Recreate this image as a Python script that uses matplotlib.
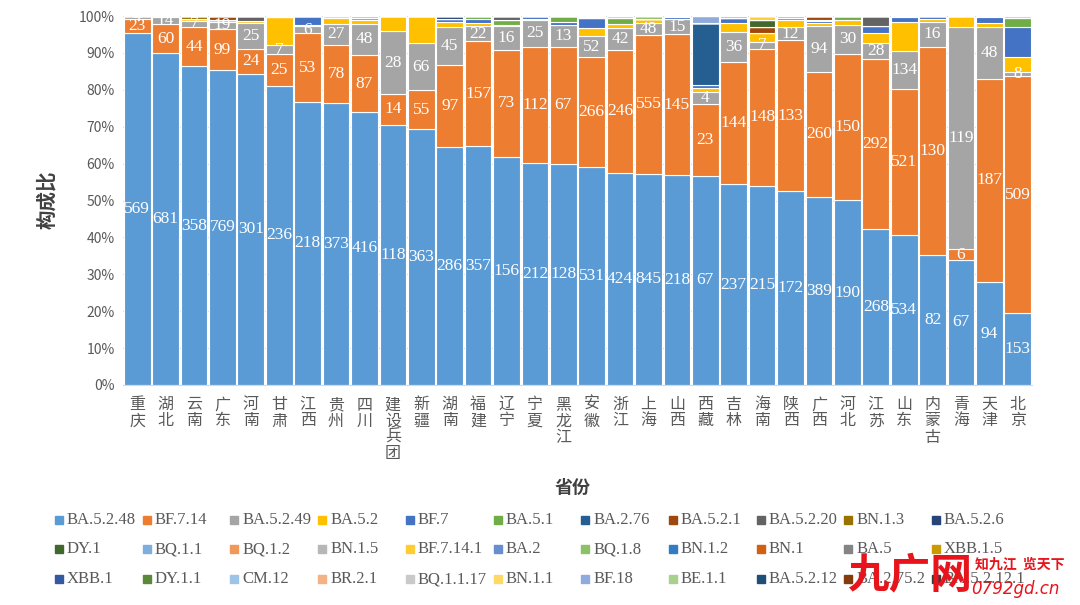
import matplotlib.pyplot as plt
import numpy as np
from matplotlib.patches import Rectangle

plt.rcParams['font.family'] = ['Noto Sans CJK SC', 'DejaVu Sans']

# provinces, left to right
provinces = ['重庆', '湖北', '云南', '广东', '河南', '甘肃', '江西', '贵州', '四川', '建设兵团',
             '新疆', '湖南', '福建', '辽宁', '宁夏', '黑龙江', '安徽', '浙江', '上海', '山西',
             '西藏', '吉林', '海南', '陕西', '广西', '河北', '江苏', '山东', '内蒙古', '青海',
             '天津', '北京']

variants = ['BA.5.2.48', 'BF.7.14', 'BA.5.2.49', 'BA.5.2', 'BF.7', 'BA.5.1', 'BA.2.76', 'BA.5.2.1',
            'BA.5.2.20', 'BN.1.3', 'BA.5.2.6', 'DY.1', 'BQ.1.1', 'BQ.1.2', 'BN.1.5', 'BF.7.14.1',
            'BA.2', 'BQ.1.8', 'BN.1.2', 'BN.1', 'BA.5', 'XBB.1.5', 'XBB.1', 'DY.1.1', 'CM.12',
            'BR.2.1', 'BQ.1.1.17', 'BN.1.1', 'BF.18', 'BE.1.1', 'BA.5.2.12', 'BA.2.75.2',
            'BA.5.2.12.1']

colors = ['#5B9BD5', '#ED7D31', '#A5A5A5', '#FFC000', '#4472C4', '#70AD47', '#255E91', '#9E480E',
          '#636363', '#997300', '#264478', '#43682B', '#7CAFDD', '#F1975A', '#B7B7B7', '#FFCD33',
          '#698ED0', '#8CC168', '#327DC2', '#D26012', '#848484', '#CC9A00', '#335AA1', '#5A8A39',
          '#9DC3E6', '#F4B183', '#C9C9C9', '#FFD966', '#8FAADC', '#A9D18E', '#1F4E79', '#843C0C',
          '#3A3A3A']

# share of each variant in every province (%)
ba5248 = [95.4, 89.9, 86.3, 85.4, 84.2, 81.0, 76.5, 75.9, 73.4, 70.5, 69.3, 64.4, 64.6, 61.3, 60.1, 59.9,
          59.0, 57.5, 57.2, 56.7, 56.7, 54.4, 53.9, 52.4, 51.0, 50.0, 42.2, 40.4, 35.0, 33.9, 27.9, 19.4]
bf714 = [3.9, 7.9, 10.6, 11.0, 6.8, 8.5, 18.5, 15.8, 15.3, 8.4, 10.6, 22.0, 28.4, 28.8, 31.6, 31.5,
         29.7, 33.3, 37.4, 38.0, 19.6, 33.0, 37.2, 40.5, 34.2, 39.6, 46.1, 39.5, 56.0, 2.9, 55.4, 64.0]
ba5249 = [0.6, 1.9, 1.7, 2.1, 7.0, 2.5, 2.1, 5.5, 8.4, 16.9, 12.7, 10.2, 4.0, 6.3, 7.2, 6.0,
          5.8, 5.8, 3.4, 4.0, 3.3, 8.3, 1.8, 3.7, 12.3, 7.9, 4.4, 10.1, 6.9, 60.1, 14.1, 1.0]
ba52 = [0.1, 0.2, 0.4, 0.4, 0.5, 7.6, 0.3, 1.6, 1.1, 4.2, 7.4, 1.5, 0.9, 0.3, 0.2, 0,
        2.1, 1.2, 0.9, 0.2, 0.9, 2.4, 2.3, 1.8, 0.9, 1.2, 2.9, 7.9, 0.6, 3.1, 1.1, 4.2]
bf7 = [0, 0.1, 0, 0, 0, 0, 2.3, 0.6, 0.5, 0, 0, 0.7, 1.2, 0, 0.9, 0.9,
       2.7, 0, 0, 0.4, 0.9, 1.2, 0, 0.6, 0.5, 0, 1.8, 1.2, 0.9, 0, 1.6, 8.1]
ba51 = [0, 0, 0, 0, 0, 0, 0, 0, 0, 0, 0, 0, 0.7, 1.2, 0, 1.5,
        0, 1.5, 0, 0.3, 0, 0, 0, 0, 0.3, 1.1, 0, 0.4, 0, 0, 0.2, 2.3]
ba276 = [0, 0, 0, 0, 0, 0, 0, 0, 0, 0, 0, 0, 0, 0, 0, 0,
         0, 0, 0, 0, 16.9, 0, 0, 0, 0, 0, 0, 0, 0, 0, 0, 0]
ba521 = [0, 0, 0, 1.1, 0, 0.3, 0, 0, 0, 0, 0, 0, 0, 0, 0, 0,
         0, 0, 0, 0, 0, 0, 1.6, 0, 1.1, 0, 0, 0, 0, 0, 0, 0.6]
ba5220 = [0, 0, 0, 0, 1.3, 0, 0, 0, 0, 0, 0, 0, 0, 1.2, 0, 0,
          0.3, 0.6, 0, 0, 0, 0, 0, 0, 0, 0, 2.7, 0, 0, 0, 0, 0]
bn13 = [0, 0, 0.9, 0, 0, 0, 0, 0, 0, 0, 0, 0, 0, 0, 0, 0,
        0, 0, 0, 0, 0, 0, 0, 0, 0, 0, 0, 0, 0, 0, 0, 0]
ba526 = [0, 0, 0, 0, 0, 0, 0, 0, 0, 0, 0, 0.9, 0, 0, 0, 0,
         0.3, 0, 0, 0, 0, 0, 0, 0.5, 0, 0, 0, 0, 0, 0, 0, 0]
dy1 = [0, 0, 0, 0, 0, 0, 0, 0, 0.5, 0, 0, 0, 0, 0, 0, 0,
       0, 0, 0, 0, 0, 0.6, 2.0, 0, 0, 0, 0, 0, 0, 0, 0, 0]
bf7141 = [0, 0, 0, 0, 0, 0, 0, 0, 0, 0, 0, 0, 0, 0, 0, 0,
          0, 0, 0, 0, 0, 0, 1.1, 0, 0, 0, 0, 0, 0, 0, 0, 0]
bq18 = [0, 0, 0, 0, 0, 0, 0, 0, 0, 0, 0, 0, 0, 0, 0, 0,
        0, 0, 0.9, 0, 0, 0, 0, 0, 0, 0, 0, 0, 0, 0, 0, 0]
bf18 = [0, 0, 0, 0, 0, 0, 0, 0, 0, 0, 0, 0, 0, 0, 0, 0,
        0, 0, 0, 0, 1.8, 0, 0, 0, 0, 0, 0, 0, 0, 0, 0, 0]

# case counts shown as data labels
n_ba5248 = [569, 681, 358, 769, 301, 236, 218, 373, 416, 118, 363, 286, 357, 156, 212, 128,
            531, 424, 845, 218, 67, 237, 215, 172, 389, 190, 268, 534, 82, 67, 94, 153]
n_bf714 = [23, 60, 44, 99, 24, 25, 53, 78, 87, 14, 55, 97, 157, 73, 112, 67,
           266, 246, 555, 145, 23, 144, 148, 133, 260, 150, 292, 521, 130, 6, 187, 509]
n_ba5249 = [4, 14, 7, 19, 25, 7, 6, 27, 48, 28, 66, 45, 22, 16, 25, 13,
            52, 42, 48, 15, 4, 36, 7, 12, 94, 30, 28, 134, 16, 119, 48, 8]

n = len(provinces)
xs = np.arange(n)
shares = {v: np.zeros(n) for v in variants}
shares['BA.5.2.48'] = np.array(ba5248, float)
shares['BF.7.14'] = np.array(bf714, float)
shares['BA.5.2.49'] = np.array(ba5249, float)
shares['BA.5.2'] = np.array(ba52, float)
shares['BF.7'] = np.array(bf7, float)
shares['BA.5.1'] = np.array(ba51, float)
shares['BA.2.76'] = np.array(ba276, float)
shares['BA.5.2.1'] = np.array(ba521, float)
shares['BA.5.2.20'] = np.array(ba5220, float)
shares['BN.1.3'] = np.array(bn13, float)
shares['BA.5.2.6'] = np.array(ba526, float)
shares['DY.1'] = np.array(dy1, float)
shares['BF.7.14.1'] = np.array(bf7141, float)
shares['BQ.1.8'] = np.array(bq18, float)
shares['BF.18'] = np.array(bf18, float)

total = sum(shares.values())
labels = {'BA.5.2.48': n_ba5248, 'BF.7.14': n_bf714, 'BA.5.2.49': n_ba5249}

fig = plt.figure(figsize=(10.8, 6.05), dpi=100)
ax = fig.add_axes([123 / 1080, 1 - 385 / 605, 909 / 1080, 369 / 605])

bottom = np.zeros(n)
for v, c in zip(variants, colors):
    h = shares[v] / total * 100
    ax.bar(xs, h, bottom=bottom, width=0.94, color=c, edgecolor='white', linewidth=0.8, zorder=2)
    if v in labels:
        for i in range(n):
            ax.text(xs[i], bottom[i] + h[i] / 2, str(labels[v][i]), ha='center', va='center',
                    color='white', fontsize=12.5, family=['Liberation Serif', 'DejaVu Serif'], zorder=3)
    bottom += h

ax.set_xlim(-0.5, n - 0.5)
ax.set_ylim(0, 100)
ax.set_yticks(np.arange(0, 101, 10))
ax.set_yticklabels([f'{t}%' for t in range(0, 101, 10)], fontsize=10, color='#595959')
ax.yaxis.grid(True, color='#D9D9D9', linewidth=0.8, zorder=0)
ax.set_axisbelow(True)
for s in ['top', 'right', 'left']:
    ax.spines[s].set_visible(False)
ax.spines['bottom'].set_color('#D9D9D9')
ax.tick_params(axis='both', length=0)
ax.tick_params(axis='y', pad=6)
ax.set_xticks(xs)
ax.set_xticklabels(['\n'.join(p) for p in provinces], fontsize=11.5, color='#595959',
                   linespacing=0.95, va='top')
ax.tick_params(axis='x', pad=8)

fig.text(47 / 1080, 1 - 200 / 605, '构成比', rotation=90, ha='center', va='center',
         fontsize=14, fontweight='bold', color='#404040')
fig.text(573 / 1080, 1 - 487 / 605, '省份', ha='center', va='center',
         fontsize=13, fontweight='bold', color='#404040')

# legend, Excel style: 11 columns, filled row by row
for i, (v, c) in enumerate(zip(variants, colors)):
    r, col = divmod(i, 11)
    x0 = 55 + col * 87.7
    y0 = [520, 549, 579][r]
    fig.add_artist(Rectangle((x0 / 1080, 1 - (y0 + 4) / 605), 8 / 1080, 8 / 605,
                             transform=fig.transFigure, color=c))
    fig.text((x0 + 12) / 1080, 1 - y0 / 605, v, ha='left', va='center', fontsize=12,
             color='#595959', family=['Liberation Serif', 'DejaVu Serif'])

# site watermark
fig.text(910 / 1080, 1 - 575 / 605, '九广网', ha='center', va='center', fontsize=30,
         fontweight='bold', color='#E8141B', style='italic')
fig.text(1020 / 1080, 1 - 565 / 605, '知九江  览天下', ha='center', va='center', fontsize=10,
         fontweight='bold', color='#E8141B')
fig.text(1015 / 1080, 1 - 589 / 605, '0792gd.cn', ha='center', va='center', fontsize=12,
         color='#E8141B', style='italic', family=['DejaVu Sans'])

fig.savefig('out.png', dpi=100)
